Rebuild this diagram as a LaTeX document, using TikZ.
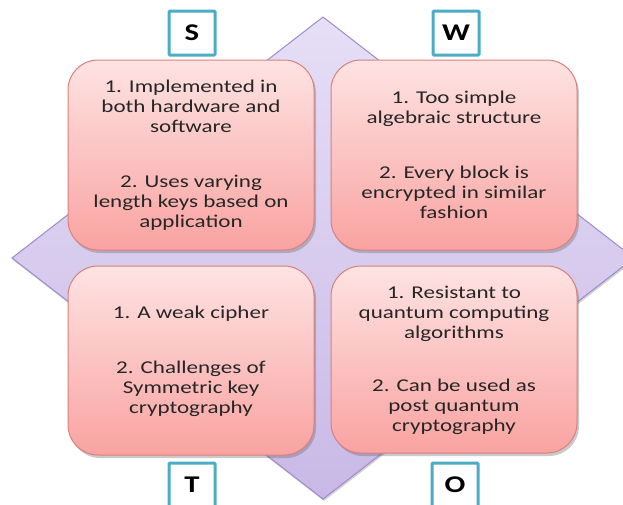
\documentclass[tikz,border=0pt]{standalone}
\usepackage{fontspec}
\setmainfont{Carlito}[FakeStretch=1.28]
\usetikzlibrary{shadows}

\definecolor{diamondtop}{HTML}{E6DFF6}
\definecolor{diamondbot}{HTML}{C9B8E6}
\definecolor{diamondline}{HTML}{9F8ACB}
\definecolor{quadtop}{HTML}{FDE3E2}
\definecolor{quadbot}{HTML}{F9A3A1}
\definecolor{quadline}{HTML}{D9807E}
\definecolor{letterline}{HTML}{4BACC6}

\tikzset{
  quad/.style={draw=quadline, line width=1pt, rounded corners=30pt,
    top color=quadtop, bottom color=quadbot,
    drop shadow={shadow xshift=2pt, shadow yshift=-3pt, opacity=0.35, fill=black!60}},
  quadtext/.style={align=center, font=\fontsize{18}{20}\selectfont, text=black!85},
  letter/.style={draw=letterline, line width=3pt, fill=white, rounded corners=1pt,
    minimum width=46pt, minimum height=44pt, font=\fontsize{24}{30}\selectfont\bfseries}
}

\begin{document}
\begin{tikzpicture}[x=1pt,y=-1pt]
\useasboundingbox (0,0) rectangle (623,504);

% background diamond
\draw[draw=diamondline, line width=1pt, top color=diamondtop, bottom color=diamondbot,
  drop shadow={shadow xshift=1pt, shadow yshift=-2pt, opacity=0.3, fill=black!60}]
  (323,17) -- (634,258) -- (323,499) -- (12,258) -- cycle;

% the four quadrants
\draw[quad] (68,60) rectangle (314,250);
\draw[quad] (331,60) rectangle (577,250);
\draw[quad] (68,266) rectangle (314,455);
\draw[quad] (331,266) rectangle (577,453);

\node[quadtext] (strength) at (191,155) {1. Implemented in\\both hardware and\\software\\[35pt]2. Uses varying\\length keys based on\\application};
\node[quadtext] (weakness) at (454,155) {1. Too simple\\algebraic structure\\[35pt]2. Every block is\\encrypted in similar\\fashion};
\node[quadtext] (threat) at (191,361) {1. A weak cipher\\[35pt]2. Challenges of\\Symmetric key\\cryptography};
\node[quadtext] (opportunity) at (454,360) {1. Resistant to\\quantum computing\\algorithms\\[33pt]2. Can be used as\\post quantum\\cryptography};

% letters
\node[letter] (s) at (192,33) {S};
\node[letter] (w) at (456,33) {W};
\node[letter] (t) at (192,485) {T};
\node[letter] (o) at (455,485) {O};
\end{tikzpicture}
\end{document}
